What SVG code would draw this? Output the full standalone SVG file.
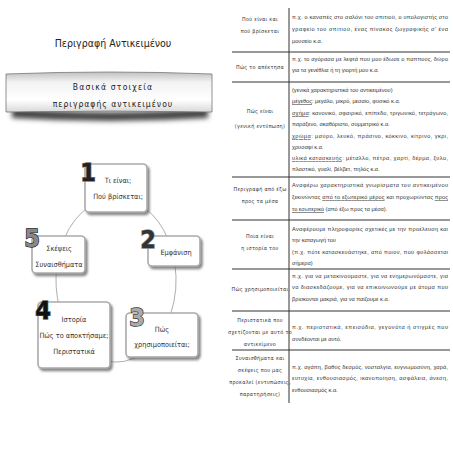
<svg xmlns="http://www.w3.org/2000/svg" width="453" height="453" viewBox="0 0 453 453">
<defs>
<style>
.hand{font-family:"DejaVu Sans Condensed","DejaVu Sans",sans-serif;fill:#222}
.bx{fill:#fff;stroke:#aaa;stroke-width:1.6}
.bt{font-family:"DejaVu Sans Condensed","DejaVu Sans",sans-serif;font-size:7.3px;fill:#333;text-anchor:middle}
.num{font-family:"DejaVu Sans Condensed","DejaVu Sans",sans-serif;font-weight:bold;font-size:25px;text-anchor:middle;stroke-width:1.3;paint-order:stroke}
.arc{fill:none;stroke:#999;stroke-width:0.8}
.tl{stroke:#333;stroke-width:1}
.lc{font-family:"DejaVu Sans Condensed","DejaVu Sans",sans-serif;font-size:5.4px;fill:#333;text-anchor:middle;letter-spacing:0.3px}
.rc{font-family:"Liberation Sans",Arial,sans-serif;font-size:5.6px;fill:#333}
.u{text-decoration:underline}
</style>
<linearGradient id="ban" x1="0" y1="0" x2="0" y2="1">
<stop offset="0" stop-color="#c0c0c0"/>
<stop offset="0.25" stop-color="#f2f2f2"/>
<stop offset="0.7" stop-color="#ffffff"/>
<stop offset="1" stop-color="#d8d8d8"/>
</linearGradient>
<filter id="sh" x="-20%" y="-20%" width="150%" height="150%">
<feDropShadow dx="2" dy="2.5" stdDeviation="1.3" flood-color="#555" flood-opacity="0.7"/>
</filter>
<filter id="bl" x="-10%" y="-50%" width="120%" height="200%">
<feGaussianBlur stdDeviation="2.5"/>
</filter>
</defs>

<text class="hand" x="113" y="47" font-size="10.5" text-anchor="middle">Περιγραφή Αντικειμένου</text>

<g id="banner">
<path d="M12 108 Q110 116 208 108 L208 118 Q110 124 12 118 Z" fill="#444" filter="url(#bl)"/>
<path d="M6 74 Q110 70 212 74 L212 112 Q110 110 6 112 Z" fill="url(#ban)" stroke="#777" stroke-width="0.8"/>
<text class="hand" x="113" y="90" font-size="8.5" text-anchor="middle" letter-spacing="1.2">Βασικά στοιχεία</text>
<text class="hand" x="113" y="107" font-size="8.5" text-anchor="middle" letter-spacing="1">περιγραφής αντικειμένου</text>
</g>

<g id="connectors">
<path class="arc" d="M146 209 A60 82 0 0 1 168 239"/>
<path class="arc" d="M174.7 262.9 A60 82 0 0 1 170.4 314.7"/>
<path class="arc" d="M141.4 354.3 A60 82 0 0 1 105.6 360.8"/>
<path class="arc" d="M59.6 308 A60 82 0 0 1 56.9 265.8"/>
<path class="arc" d="M64 239 A60 82 0 0 1 90.6 205.7"/>
</g>

<g id="node1">
<rect class="bx" x="85" y="164" width="62" height="48" rx="4" filter="url(#sh)"/>
<text class="bt" x="118" y="183">Τι είναι;</text>
<text class="bt" x="118" y="199">Πού βρίσκεται;</text>
<text class="num" x="88" y="181" fill="#222" stroke="#777">1</text>
</g>

<g id="node2">
<rect class="bx" x="148" y="236" width="52" height="30" rx="4" filter="url(#sh)"/>
<text class="bt" x="176" y="255">Εμφάνιση</text>
<text class="num" x="148" y="248" fill="#333" stroke="#888">2</text>
</g>

<g id="node3">
<rect class="bx" x="126" y="313" width="72" height="44" rx="4" filter="url(#sh)"/>
<text class="bt" x="162" y="332">Πώς</text>
<text class="bt" x="162" y="347">χρησιμοποιείται;</text>
<text class="num" x="137" y="326" fill="#aaa" stroke="#333">3</text>
</g>

<g id="node4">
<rect class="bx" x="38" y="302" width="72" height="66" rx="4" filter="url(#sh)"/>
<text class="bt" x="74" y="322">Ιστορία</text>
<text class="bt" x="74" y="338">Πώς το αποκτήσαμε;</text>
<text class="bt" x="74" y="354">Περιστατικά</text>
<text class="num" x="43" y="319" fill="#111" stroke="#666">4</text>
</g>

<g id="node5">
<rect class="bx" x="32" y="236" width="53" height="37" rx="4" filter="url(#sh)"/>
<text class="bt" x="59" y="251">Σκέψεις</text>
<text class="bt" x="59" y="267">Συναισθήματα</text>
<text class="num" x="32" y="247" fill="#888" stroke="#222">5</text>
</g>

<g id="table">
<line class="tl" x1="289" y1="8" x2="289" y2="403"/>
<line class="tl" x1="232" y1="52" x2="450" y2="52"/>
<line class="tl" x1="232" y1="82" x2="450" y2="82" stroke-width="1.5"/>
<line class="tl" x1="232" y1="177" x2="450" y2="177"/>
<line class="tl" x1="232" y1="220" x2="450" y2="220"/>
<line class="tl" x1="232" y1="269" x2="450" y2="269"/>
<line class="tl" x1="232" y1="311" x2="450" y2="311"/>
<line class="tl" x1="232" y1="350" x2="450" y2="350"/>

<text class="lc" x="260" y="21">Πού είναι και</text>
<text class="lc" x="260" y="33">πού βρίσκεται</text>
<text class="lc" x="260" y="69">Πώς το απέκτησα</text>
<text class="lc" x="260" y="113">Πώς είναι</text>
<text class="lc" x="260" y="128">(γενική εντύπωση)</text>
<text class="lc" x="260" y="191">Περιγραφή από έξω</text>
<text class="lc" x="260" y="203">προς τα μέσα</text>
<text class="lc" x="260" y="238">Ποια είναι</text>
<text class="lc" x="260" y="250">η ιστορία του</text>
<text class="lc" x="260" y="291">Πώς χρησιμοποιείται</text>
<text class="lc" x="260" y="322">Περιστατικά που</text>
<text class="lc" x="260" y="334">σχετίζονται με αυτό το</text>
<text class="lc" x="260" y="346">αντικείμενο</text>
<text class="lc" x="260" y="360">Συναισθήματα και</text>
<text class="lc" x="260" y="372">σκέψεις που μας</text>
<text class="lc" x="260" y="384">προκαλεί (εντυπώσεις,</text>
<text class="lc" x="260" y="396">παρατηρήσεις)</text>

<text class="rc" x="292" y="19" textLength="156" lengthAdjust="spacing">π.χ. ο καναπές στο σαλόνι του σπιτιού, ο υπολογιστής στο</text>
<text class="rc" x="292" y="31" textLength="156" lengthAdjust="spacing">γραφείο του σπιτιού, ένας πίνακας ζωγραφικής σ' ένα</text>
<text class="rc" x="292" y="43">μουσείο κ.α.</text>

<text class="rc" x="292" y="61" textLength="156" lengthAdjust="spacing">π.χ. το αγόρασα με λεφτά που μου έδωσε ο παππούς, δώρο</text>
<text class="rc" x="292" y="72">για τα γενέθλια ή τη γιορτή μου κ.α.</text>

<text class="rc" x="292" y="92">(γενικά χαρακτηριστικά του αντικειμένου)</text>
<text class="rc" x="292" y="103"><tspan class="u">μέγεθος</tspan>: μεγάλο, μικρό, μεσαίο, φυσικό κ.α.</text>
<text class="rc" x="292" y="115" textLength="156" lengthAdjust="spacing"><tspan class="u">σχήμα</tspan>: κανονικό, σφαιρικό, επίπεδο, τριγωνικό, τετράγωνο,</text>
<text class="rc" x="292" y="126">παράξενο, ακαθόριστο, συμμετρικό κ.α.</text>
<text class="rc" x="292" y="138" textLength="156" lengthAdjust="spacing"><tspan class="u">χρώμα</tspan>: μαύρο, λευκό, πράσινο, κόκκινο, κίτρινο, γκρι,</text>
<text class="rc" x="292" y="149">χρυσαφί κ.α.</text>
<text class="rc" x="292" y="160" textLength="156" lengthAdjust="spacing"><tspan class="u">υλικά κατασκευής</tspan>: μέταλλο, πέτρα, χαρτί, δέρμα, ξύλο,</text>
<text class="rc" x="292" y="171">πλαστικό, γυαλί, βέλβετ, πηλός κ.α.</text>

<text class="rc" x="292" y="187" textLength="156" lengthAdjust="spacing">Αναφέρω χαρακτηριστικά γνωρίσματα του αντικειμένου</text>
<text class="rc" x="292" y="199" textLength="156" lengthAdjust="spacing">ξεκινώντας <tspan class="u">από το εξωτερικό μέρος</tspan> και προχωρώντας <tspan class="u">προς</tspan></text>
<text class="rc" x="292" y="211"><tspan class="u">το εσωτερικό</tspan> (από έξω προς τα μέσα).</text>

<text class="rc" x="292" y="231" textLength="156" lengthAdjust="spacing">Αναφέρουμε πληροφορίες σχετικές με την προέλευση και</text>
<text class="rc" x="292" y="242">την καταγωγή του</text>
<text class="rc" x="292" y="254" textLength="156" lengthAdjust="spacing">(π.χ. πότε κατασκευάστηκε, από ποιον, πού φυλάσσεται</text>
<text class="rc" x="292" y="265">σήμερα)</text>

<text class="rc" x="292" y="278" textLength="156" lengthAdjust="spacing">π.χ. για να μετακινούμαστε, για να ενημερωνόμαστε, για</text>
<text class="rc" x="292" y="289" textLength="156" lengthAdjust="spacing">να διασκεδάζουμε, για να επικοινωνούμε με άτομα που</text>
<text class="rc" x="292" y="301">βρίσκονται μακριά, για να παίζουμε κ.α.</text>

<text class="rc" x="292" y="329" textLength="156" lengthAdjust="spacing">π.χ. περιστατικά, επεισόδια, γεγονότα ή στιγμές που</text>
<text class="rc" x="292" y="341">συνδέονται με αυτό.</text>

<text class="rc" x="292" y="369" textLength="156" lengthAdjust="spacing">π.χ. αγάπη, βαθύς δεσμός, νοσταλγία, ευγνωμοσύνη, χαρά,</text>
<text class="rc" x="292" y="380" textLength="156" lengthAdjust="spacing">ευτυχία, ενθουσιασμός, ικανοποίηση, ασφάλεια, άνεση,</text>
<text class="rc" x="292" y="392">ενθουσιασμός κ.α.</text>
</g>
</svg>
